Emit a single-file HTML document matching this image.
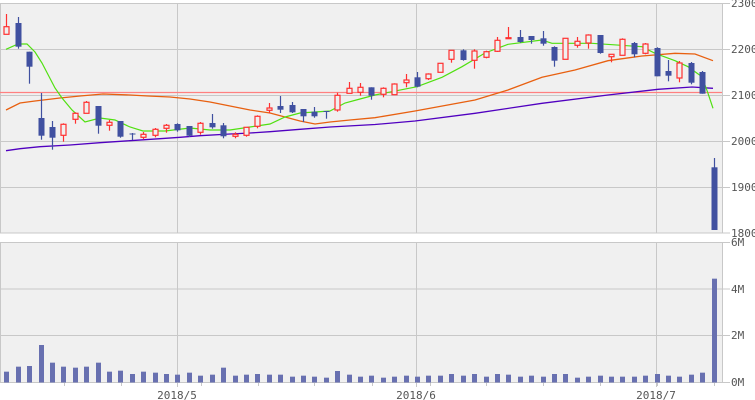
<!DOCTYPE html>
<html><head><meta charset="utf-8"><style>
html,body{margin:0;padding:0;background:#fff;}
svg{display:block;font-family:"DejaVu Sans Mono","Liberation Mono",monospace;}
</style></head><body>
<svg id="c" width="755" height="400" viewBox="0 0 755 400" xmlns="http://www.w3.org/2000/svg">
<rect x="0.5" y="3.5" width="722" height="229.5" fill="#f0f0f0" stroke="#c8c8c8"/>
<rect x="0.5" y="242.5" width="722" height="140" fill="#f0f0f0" stroke="#c8c8c8"/>
<g stroke="#c8c8c8" stroke-width="1">
<line x1="0" y1="49.5" x2="730" y2="49.5"/><line x1="0" y1="95.5" x2="730" y2="95.5"/>
<line x1="0" y1="141.5" x2="730" y2="141.5"/><line x1="0" y1="187.5" x2="730" y2="187.5"/>
<line x1="722" y1="3.5" x2="730" y2="3.5"/><line x1="722" y1="233" x2="730" y2="233"/>
<line x1="0" y1="289" x2="730" y2="289"/><line x1="0" y1="335.5" x2="730" y2="335.5"/>
<line x1="722" y1="242.5" x2="730" y2="242.5"/><line x1="722" y1="382.5" x2="730" y2="382.5"/>
<line x1="177.5" y1="3" x2="177.5" y2="233"/><line x1="416.5" y1="3" x2="416.5" y2="233"/><line x1="656.5" y1="3" x2="656.5" y2="233"/>
<line x1="177.5" y1="242" x2="177.5" y2="387"/><line x1="416.5" y1="242" x2="416.5" y2="387"/><line x1="656.5" y1="242" x2="656.5" y2="387"/>
</g>
<g id="ticks" stroke="#c8c8c8"></g>
<g fill="#555" font-size="11">
<text x="731" y="7">2300</text><text x="731" y="53">2200</text><text x="731" y="99">2100</text>
<text x="731" y="145">2000</text><text x="731" y="191">1900</text><text x="731" y="237">1800</text>
<text x="731" y="246">6M</text><text x="731" y="293">4M</text><text x="731" y="339">2M</text><text x="731" y="386">0M</text>
<text x="177" y="399" text-anchor="middle">2018/5</text><text x="416" y="399" text-anchor="middle">2018/6</text><text x="656" y="399" text-anchor="middle">2018/7</text>
</g>
<line x1="0" y1="92.5" x2="722" y2="92.5" stroke="#ff8080" stroke-width="1.2"/>
<polyline fill="none" stroke="#5000c0" stroke-width="1.3" points="6,150.7 20,148.7 40,146.7 70,145 100,142.7 130,140.7 160,138.7 180,137.3 200,135.7 230,134 250,133 270,131.7 300,129.3 330,127 375,124.5 415,121 475,113.3 542,103.3 608,95 658,89.3 692,87 713,88.3"/>
<polyline fill="none" stroke="#e86010" stroke-width="1.3" points="6,110 20,103 35,101 60,98 80,96 103,94 130,95 148,96 170,97 190,99 210,102 230,106 250,110 270,113 285,117 300,121 315,124 330,122 350,120 375,117.7 415,111 475,100 508,90 542,77.3 575,70 608,60.7 642,56 675,53.3 695,54 713,60.7"/>
<polyline fill="none" stroke="#50e010" stroke-width="1.2" points="6,49.3 18,44 27,44 35,52 42,63 55,88 62,98 72,110 85,122 100,118 115,120 130,127 143,131 165,131 190,128 210,130 230,130 250,127 270,124 285,117 300,113 315,112 330,111 345,103 360,99 375,95 417,86.7 442,77.3 462,66.7 485,53 508,44.3 542,40 552,43.3 592,43.3 642,46.7 655,53.3 675,60.7 688,66.7 702,76.7 708,93.3 713,108.3"/>
<g id="cand"></g>
<g id="vol" fill="#6870b0"></g>
</svg>
<script>
var C=[
['u',26.7,34.3,14,34.3],['d',23,46.7,17,48.7],['d',51.7,66.7,51.7,83.7],['d',118,135.7,93,139.7],['d',127,137.7,121,149.7],
['u',124.3,135.3,123.3,141.7],['u',113.3,119.3,112.3,123.7],['u',102.3,113.3,101,113.3],['d',106,125.7,106,133.7],['u',122.3,125.3,120,130.7],
['d',121,136.7,121,137.7],['d',133.5,134.5,133,140],['u',134.3,137.3,132,139.3],['u',129.3,135.3,128,137.3],['u',125.3,128.3,124,132.7],
['d',124,130.3,123.3,131.7],['d',126,135.7,126,137],['u',123.3,132.3,122,134.7],['d',123,127.3,114,128.7],['d',125.3,136.3,123,138.3],
['u',134.3,136.3,132.3,138.3],['u',127.3,135.3,127,136.7],['u',116.3,126.3,115.3,128.3],['u',108,110.3,103,113.3],['d',106,109.7,96,113],
['d',105,112.3,102,113],['d',109,116.3,109,122],['d',111.7,116.3,107,117.7],['d',111,112,111,118.7],['u',95.3,110,92.7,111.7],
['u',88.3,93.3,82,93.3],['u',87.3,92.3,83,95.7],['d',87.3,95.7,87.3,99.7],['u',88.3,94.3,87.3,97.3],['u',84,94.7,83.3,94.7],
['u',80,82.7,74,87.3],['d',77.3,86.7,72,87.3],['u',74,78.7,73.3,80],['u',63.3,72.3,63.3,72.3],['u',50.3,59.3,50.3,62.7],
['d',50.3,60,49.3,60.7],['u',51,60.3,49.3,68.7],['u',51.7,57.3,50.7,58.3],['u',40.3,51.3,37,52],['u',37.7,38.3,27,39],
['d',37,42,30,42.7],['d',36,40,36,43.7],['d',38.3,43.7,31,45.7],['d',47,60.7,46.3,66.7],['u',38.3,59.3,38.3,59.3],
['u',41.3,45.3,37,47.7],['u',35,43,34.3,48.7],['d',35,53,35,53.7],['u',54.3,56.7,54.3,62.3],['u',39.3,55.3,38.3,55.3],
['d',43,54.3,42,57.3],['u',44,53.3,43,54.3],['d',48,76.3,47.3,76.3],['d',71,75.7,60,81.3],['u',63,78,61,82.3],
['d',63,82.7,62,84.3],['d',72,93.7,71,93.7],['d',167.3,230,158,230]];
var V=[425,410,408,345,398,410,413,410,398,425,422,432,425,428,432,434,428,437,434,413,437,434,432,434,434,440,437,440,443,423,434,440,437,443,440,437,440,437,437,432,437,432,440,432,434,440,437,440,432,432,443,440,437,440,440,440,437,432,437,440,434,428,146];
var ns='http://www.w3.org/2000/svg',g=document.getElementById('cand'),vg=document.getElementById('vol'),tg=document.getElementById('ticks');
function el(t,a,p){var e=document.createElementNS(ns,t);for(var k in a)e.setAttribute(k,a[k]);p.appendChild(e);}
for(var i=0;i<C.length;i++){var c=C[i],x=Math.round(6.3+11.41*i)+0.5,up=c[0]=='u',col=up?'#ff3030':'#4050a0';
el('line',{x1:x,x2:x,y1:c[3],y2:c[4],stroke:col,'stroke-width':1.2},g);
var h=Math.max(c[2]-c[1],1);
if(up)el('rect',{x:x-2.5,y:c[1],width:5,height:h,fill:'#f0f0f0',stroke:col,'stroke-width':1.2},g);
else el('rect',{x:x-3,y:c[1],width:6,height:h,fill:col},g);}
for(var i=0;i<V.length;i++){var x=6.3+11.41*i,y=230+V[i]/3;el('rect',{x:(Math.round(x)-2),y:y,width:5,height:382.5-y},vg);}
[63.6,120.5,200.6,257.5,314.4,371.7,429.6,486,543,600,657,714].forEach(function(x){var X=Math.round(x)+0.5;el('line',{x1:X,x2:X,y1:382,y2:386},tg);});
</script>
</body></html>
